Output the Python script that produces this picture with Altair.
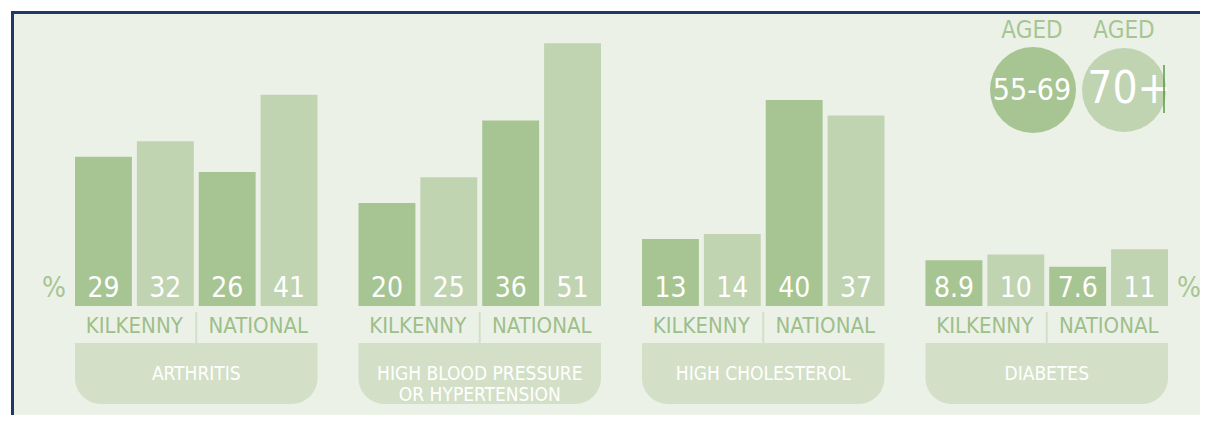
import altair as alt
import pandas as pd

# ---- data ----
groups = ["ARTHRITIS", "HIGH BLOOD PRESSURE OR HYPERTENSION", "HIGH CHOLESTEROL", "DIABETES"]
group_titles = ["ARTHRITIS", "HIGH BLOOD PRESSURE\nOR HYPERTENSION", "HIGH CHOLESTEROL", "DIABETES"]
series_names = ["KILKENNY 55-69", "KILKENNY 70+", "NATIONAL 55-69", "NATIONAL 70+"]
series_age = ["55-69", "70+", "55-69", "70+"]
ages = ["55-69", "70+"]
kilkenny_55_69 = [29, 20, 13, 8.9]
kilkenny_70_plus = [32, 25, 14, 10]
national_55_69 = [26, 36, 40, 7.6]
national_70_plus = [41, 51, 37, 11]
area_labels = ["KILKENNY", "NATIONAL"]

# ---- styles ----
FONT = "DejaVu Sans Condensed, Liberation Sans Narrow, DejaVu Sans"
BG = "#ECF1E8"
DARK = "#A7C592"
LIGHT = "#C0D4B1"
BOX = "#D3E0C7"
LABEL_GREEN = "#9DBF8A"
NAVY = "#1F3864"

series_values = [kilkenny_55_69, kilkenny_70_plus, national_55_69, national_70_plus]
rows = []
for gi, g in enumerate(groups):
    for si, s in enumerate(series_names):
        v = series_values[si][gi]
        rows.append({"group": g, "series": s, "age": series_age[si],
                     "value": v, "label": f"{v:g}"})
df = pd.DataFrame(rows)
gdf = pd.DataFrame({"group": groups, "title": group_titles})

x_enc = alt.X("group:N", sort=groups,
              scale=alt.Scale(domain=groups, range=[61, 1154],
                              paddingInner=0.1445, paddingOuter=0),
              axis=None)
xo_enc = alt.XOffset("series:N", sort=series_names,
                     scale=alt.Scale(domain=series_names, paddingInner=0.08, paddingOuter=0))
y_scale = alt.Scale(domain=[-21.17, 56.70], nice=False, zero=False)
color_scale = alt.Scale(domain=ages, range=[DARK, LIGHT])

bars = alt.Chart(df).mark_bar().encode(
    x=x_enc, xOffset=xo_enc,
    y=alt.Y("value:Q", scale=y_scale, axis=None),
    y2=alt.Y2(datum=0),
    color=alt.Color("age:N", scale=color_scale, legend=None),
)

values = alt.Chart(df).mark_text(
    font=FONT, fontSize=28, color="white", baseline="alphabetic", dy=-9
).encode(
    x=x_enc, xOffset=xo_enc,
    y=alt.YDatum(0),
    text="label:N",
)

pct_left = alt.Chart(gdf.head(1)).mark_text(
    font=FONT, fontSize=28, color=DARK, baseline="alphabetic", dy=-9, text="%"
).encode(x=alt.value(40), y=alt.YDatum(0))
pct_right = alt.Chart(gdf.head(1)).mark_text(
    font=FONT, fontSize=28, color=DARK, baseline="alphabetic", dy=-9, text="%"
).encode(x=alt.value(1175), y=alt.YDatum(0))

kil = alt.Chart(gdf).mark_text(
    font=FONT, fontSize=22, color=LABEL_GREEN, baseline="middle", dx=-62, text=area_labels[0]
).encode(x=x_enc, y=alt.value(312))
nat = alt.Chart(gdf).mark_text(
    font=FONT, fontSize=22, color=LABEL_GREEN, baseline="middle", dx=62, text=area_labels[1]
).encode(x=x_enc, y=alt.value(312))

sep = alt.Chart(gdf).mark_rule(color=BOX, strokeWidth=2).encode(
    x=x_enc, y=alt.value(298), y2=alt.value(330)
)

box = alt.Chart(gdf).mark_bar(
    color=BOX, cornerRadiusBottomLeft=26, cornerRadiusBottomRight=26
).encode(x=x_enc, y=alt.value(329), y2=alt.value(390))

box_text = alt.Chart(gdf).mark_text(
    font=FONT, fontSize=19, color="white", baseline="middle", lineBreak="\n", lineHeight=21
).encode(x=x_enc, y=alt.value(359.5), text="title:N")

# legend (manual)
leg_df = pd.DataFrame({"age": ages})
leg_c1 = alt.Chart(leg_df.head(1)).mark_point(shape="circle", filled=True, opacity=1, size=7396).encode(
    x=alt.value(1019), y=alt.value(76), color=alt.Color("age:N", scale=color_scale, legend=None))
leg_c2 = alt.Chart(leg_df.tail(1)).mark_point(shape="circle", filled=True, opacity=1, size=7056).encode(
    x=alt.value(1110), y=alt.value(76), color=alt.Color("age:N", scale=color_scale, legend=None))
aged1 = alt.Chart(leg_df.head(1)).mark_text(font=FONT, fontSize=24, color=DARK, baseline="middle", text="AGED").encode(
    x=alt.value(1018), y=alt.value(17))
aged2 = alt.Chart(leg_df.head(1)).mark_text(font=FONT, fontSize=24, color=DARK, baseline="middle", text="AGED").encode(
    x=alt.value(1110), y=alt.value(17))
t1 = alt.Chart(leg_df.head(1)).mark_text(font=FONT, fontSize=30, color="white", baseline="middle").encode(
    x=alt.value(1018), y=alt.value(77), text="age:N")
t2 = alt.Chart(leg_df.tail(1)).mark_text(font=FONT, fontSize=44, color="white", baseline="middle").encode(
    x=alt.value(1115), y=alt.value(76), text="age:N")
cursor = alt.Chart(leg_df.head(1)).mark_rule(color="#5A9A46", strokeWidth=1.5).encode(
    x=alt.value(1150), y=alt.value(51), y2=alt.value(99))

# frame border
border_top = alt.Chart(leg_df.head(1)).mark_rule(color=NAVY, strokeWidth=3).encode(
    x=alt.value(-3), x2=alt.value(1186), y=alt.value(-1.5))
border_left = alt.Chart(leg_df.head(1)).mark_rule(color=NAVY, strokeWidth=3).encode(
    x=alt.value(-1.5), y=alt.value(-3), y2=alt.value(401))

chart = alt.layer(
    box, sep, bars, values, pct_left, pct_right, kil, nat, box_text,
    leg_c1, leg_c2, aged1, aged2, t1, t2, cursor, border_top, border_left
).properties(
    width=1186, height=401,
    autosize=alt.AutoSizeParams(type="none"),
    padding={"left": 6, "top": 6, "right": 0, "bottom": 0},
    background="white",
).configure_view(fill=BG, strokeWidth=0)

chart.save("out.html", embed_options={"renderer": "svg", "actions": False})
